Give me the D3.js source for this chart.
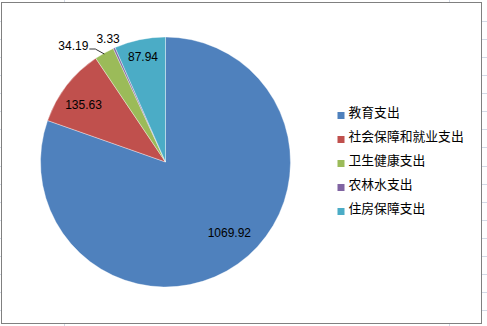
<!DOCTYPE html>
<html>
<head>
<meta charset="utf-8">
<script src="https://cdn.jsdelivr.net/npm/d3@7"></script>
<style>
  html, body { margin: 0; padding: 0; background: #fff; }
  svg { display: block; }
</style>
</head>
<body>
<svg id="chart" width="487" height="326"></svg>
<script>
// Spending categories and their amounts
const categories = ["教育支出", "社会保障和就业支出", "卫生健康支出", "农林水支出", "住房保障支出"];
const values = [1069.92, 135.63, 34.19, 3.33, 87.94];
const valueLabels = ["1069.92", "135.63", "34.19", "3.33", "87.94"];
const palette = ["#4F81BD", "#C0504D", "#9BBB59", "#8064A2", "#4BACC6"];

const W = 487, H = 326;
const svg = d3.select("#chart");

// Spreadsheet grid peeking out around the chart frame
const gridColor = "#d3dae6";
const rowYs = d3.range(0, 17).map(k => 21 + k * 18.07);
const grid = svg.append("g").attr("stroke", gridColor).attr("stroke-width", 1).attr("shape-rendering", "crispEdges");
rowYs.forEach(y => {
  grid.append("line").attr("x1", 482).attr("x2", W).attr("y1", Math.round(y) + 0.5).attr("y2", Math.round(y) + 0.5);
  grid.append("line").attr("x1", 0).attr("x2", 1).attr("y1", Math.round(y) + 0.5).attr("y2", Math.round(y) + 0.5);
});
[64, 449].forEach(x => {
  grid.append("line").attr("x1", x + 0.5).attr("x2", x + 0.5).attr("y1", 0).attr("y2", 2);
  grid.append("line").attr("x1", x + 0.5).attr("x2", x + 0.5).attr("y1", 324).attr("y2", H);
});

// Chart frame
svg.append("rect")
  .attr("x", 1.5).attr("y", 2.5)
  .attr("width", 480).attr("height", 320.5)
  .attr("fill", "#fff")
  .attr("stroke", "#808080")
  .attr("stroke-width", 1)
  .attr("shape-rendering", "crispEdges");

// Pie
const cx = 165.5, cy = 162, R = 125;
const color = d3.scaleOrdinal().domain(categories).range(palette);
const pie = d3.pie().sort(null).value(d => d.value);
const data = categories.map((c, i) => ({ cat: c, value: values[i], label: valueLabels[i] }));
const arcs = pie(data);
const arc = d3.arc().innerRadius(0).outerRadius(R);

const g = svg.append("g").attr("transform", `translate(${cx},${cy})`);
g.selectAll("path.slice")
  .data(arcs)
  .join("path")
  .attr("class", "slice")
  .attr("d", arc)
  .attr("fill", d => color(d.data.cat))
  .attr("stroke", "#ffffff")
  .attr("stroke-opacity", 0.6)
  .attr("stroke-width", 0.6);

// Point at radius r along angle a (radians, clockwise from 12 o'clock)
const polar = (r, a) => [r * Math.sin(a), -r * Math.cos(a)];
const mid = d => (d.startAngle + d.endAngle) / 2;
const deg = Math.PI / 180;

// Label placement per slice: inside labels sit along the slice, small ones go outside
const placement = [
  { mode: "in", r: 0.76, shift: -6.9 },
  { mode: "in", r: 0.80, shift: -2.8 },
  { mode: "leader" },
  { mode: "out", r: 1.09, shift: -0.7 },
  { mode: "in", r: 0.86, shift: -0.2 }
];

const labelFont = "'Liberation Sans', Arial, sans-serif";
const labels = g.append("g")
  .attr("font-family", labelFont)
  .attr("font-size", 12)
  .attr("fill", "#000");

arcs.forEach((d, i) => {
  const p = placement[i];
  if (p.mode === "leader") {
    const [px, py] = polar(R, mid(d));
    g.append("path")
      .attr("d", d3.line()([[px, py + 1], [px - 9, py - 4], [px - 15, py - 4]]))
      .attr("fill", "none")
      .attr("stroke", "#000")
      .attr("stroke-width", 0.8);
    labels.append("text")
      .attr("x", px - 16).attr("y", py - 7.5)
      .attr("dy", "0.36em")
      .attr("text-anchor", "end")
      .text(d.data.label);
  } else {
    const [x, y] = polar(R * p.r, mid(d) + p.shift * deg);
    labels.append("text")
      .attr("x", x).attr("y", y)
      .attr("dy", "0.36em")
      .attr("text-anchor", "middle")
      .text(d.data.label);
  }
});

// Legend
const legendY = d3.scalePoint().domain(categories).range([112, 208]);
const legend = svg.append("g");
const items = legend.selectAll("g.item")
  .data(categories)
  .join("g")
  .attr("class", "item")
  .attr("transform", c => `translate(337.5, ${legendY(c)})`);
items.append("rect")
  .attr("x", 0).attr("y", 0)
  .attr("width", 7).attr("height", 7)
  .attr("fill", c => color(c));
items.append("text")
  .attr("x", 11)
  .attr("y", 5)
  .attr("font-family", "'Noto Sans CJK SC', 'Noto Sans', sans-serif")
  .attr("font-size", 12.8)
  .attr("fill", "#000")
  .text(c => c);
</script>
</body>
</html>
